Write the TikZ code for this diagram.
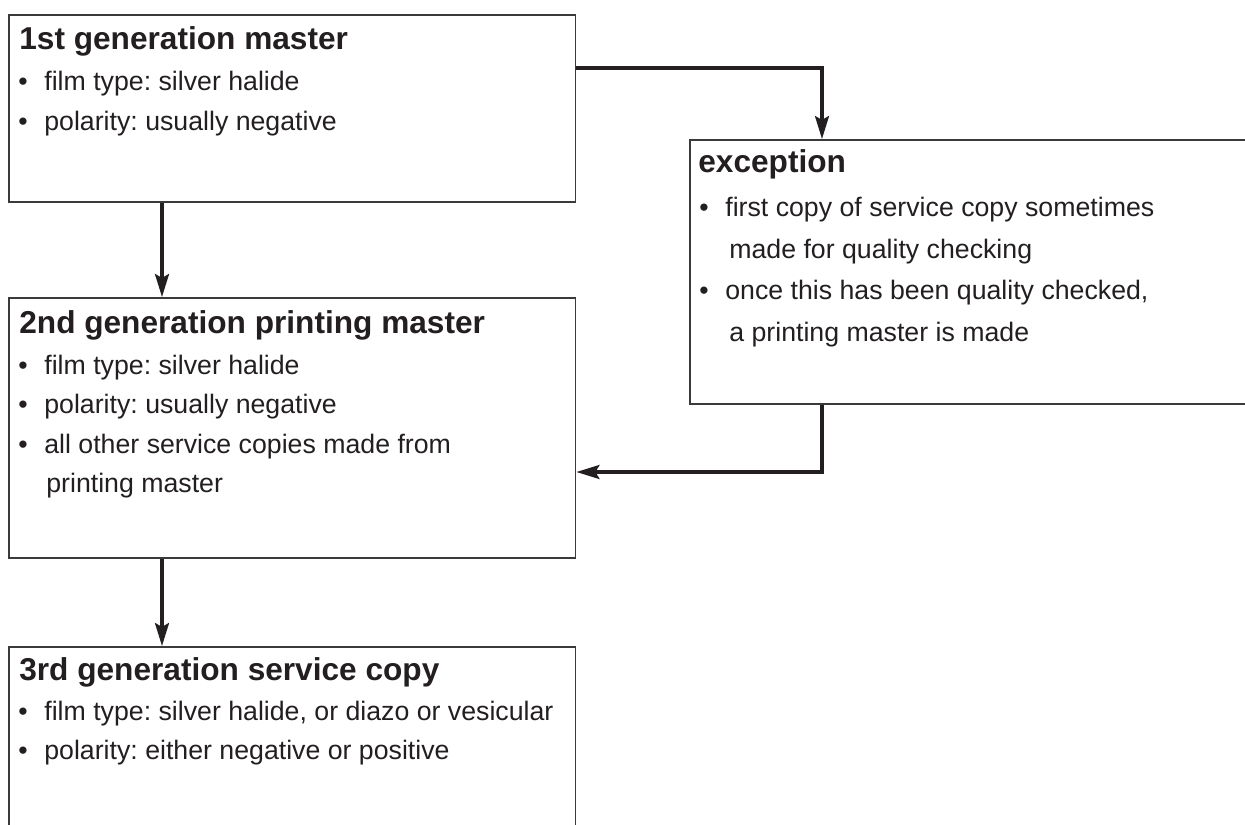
\documentclass[tikz,border=0pt]{standalone}
\usepackage{fontspec}
\setmainfont{Liberation Sans}
\usetikzlibrary{arrows.meta, positioning}

\definecolor{ink}{HTML}{231F20}
\definecolor{boxgray}{HTML}{3A3A3A}
\newlength{\pxl}
\setlength{\pxl}{0.02cm}
\newcommand{\bul}{\makebox[26\pxl][l]{\textbullet}}
\newcommand{\cont}{\hspace*{28\pxl}}
\frenchspacing

\tikzset{
    genbox/.style={draw=boxgray, line width=0.9pt, inner sep=0pt, anchor=north west},
    boxtitle/.style={font=\bfseries\fontsize{18}{20}\selectfont, text=ink, anchor=base west, inner sep=0pt},
    itemtext/.style={font=\fontsize{15.2}{18}\selectfont, text=ink, anchor=base west, inner sep=0pt},
    flow/.style={draw=ink, line width=1.8pt, -{Stealth[length=4.6mm, width=2.8mm, inset=0.8mm]}}
}

\begin{document}
\begin{tikzpicture}[x=0.02cm, y=-0.02cm]
    \useasboundingbox (0,0) rectangle (1245,825);
    \clip (0,0) rectangle (1245,825);

    % boxes
    \node[genbox, minimum width=11.34cm, minimum height=3.74cm] (m1) at (8,14) {};
    \node[genbox, minimum width=11.34cm, minimum height=5.2cm] (m2) at (8,297) {};
    \node[genbox, minimum width=11.34cm, minimum height=3.9cm] (m3) at (8,646) {};
    \node[genbox, minimum width=11.42cm, minimum height=5.28cm] (exc) at (689,139) {};

    % texts
    \node[boxtitle] (m1t) at (19,49) {1st generation master};
    \node[itemtext] (m1a) at (18,90) {\bul film type: silver halide};
    \node[itemtext] (m1b) at (18,130) {\bul polarity: usually negative};

    \node[boxtitle] (m2t) at (19,333) {2nd generation printing master};
    \node[itemtext] (m2a) at (18,374) {\bul film type: silver halide};
    \node[itemtext] (m2b) at (18,413) {\bul polarity: usually negative};
    \node[itemtext] (m2c) at (18,453) {\bul all other service copies made from};
    \node[itemtext] (m2d) at (18,492) {\cont printing master};

    \node[boxtitle] (m3t) at (19,680) {3rd generation service copy};
    \node[itemtext] (m3a) at (18,720) {\bul film type: silver halide, or diazo or vesicular};
    \node[itemtext] (m3b) at (18,759) {\bul polarity: either negative or positive};

    \node[boxtitle] (exct) at (698,172) {exception};
    \node[itemtext] (exca) at (699,216) {\bul first copy of service copy sometimes};
    \node[itemtext] (excb) at (699,258) {\hspace*{30\pxl}made for quality checking};
    \node[itemtext] (excc) at (699,299) {\bul once this has been quality checked,};
    \node[itemtext] (excd) at (699,341) {\hspace*{30\pxl}a printing master is made};

    % connectors
    \coordinate (down) at (162,0);
    \coordinate (side) at (822,68);
    \coordinate (back) at (822,472);
    \draw[flow] (m1.east |- side) -| (exc.north -| side);
    \draw[flow] (m1.south -| down) -- (m2.north -| down);
    \draw[flow] (exc.south -| back) |- (m2.east |- back);
    \draw[flow] (m2.south -| down) -- (m3.north -| down);
\end{tikzpicture}
\end{document}
